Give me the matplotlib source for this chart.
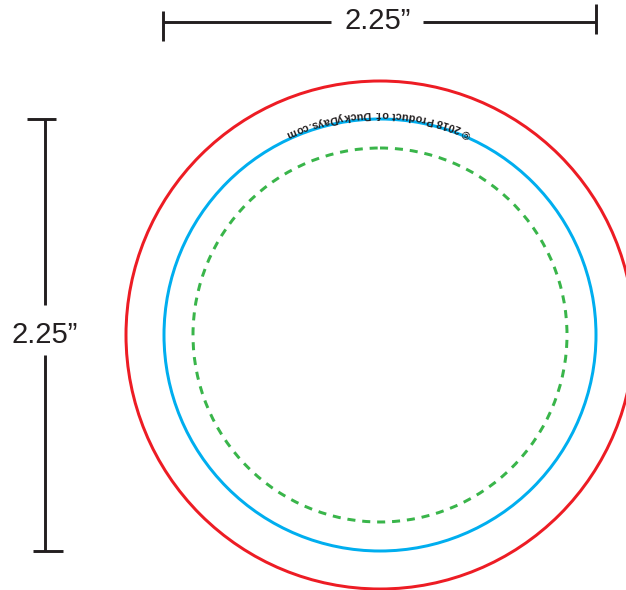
#!/usr/bin/env python3
import numpy as np
import matplotlib
matplotlib.use('Agg')
import matplotlib.pyplot as plt
from matplotlib.patches import Circle
from matplotlib.font_manager import FontProperties
from matplotlib.textpath import TextToPath

# rings in pixels: cut line, trim line, safe line
ring_radius = [254, 216, 187]
ring_color = ['#ed1c24', '#00aeef', '#39b54a']
ring_style = ['-', '-', (0, (2.7, 2.3))]
center = (380, 335)

dim_label = '2.25\u201d'
curved_label = '\u00a9 2018 Product of: DuckyDays.com'

# dimension lines: (start, end) along the line
top_segments = [(163, 331), (423, 596)]
left_segments = [(119, 305), (355, 551)]

INK = '#231f20'


def curved_text(ax, s, radius, mid_angle, size, tracking):
    # places each character by hand, there is no text-on-path in matplotlib
    prop = FontProperties(family='Liberation Sans', weight='bold', size=size)
    ttp = TextToPath()
    scale = 100 / 72

    def width(t):
        # the x keeps trailing spaces from being dropped
        w = ttp.get_text_width_height_descent(t + 'x', prop, False)[0]
        return (w - ttp.get_text_width_height_descent('x', prop, False)[0]) * scale

    total = width(s) + tracking * (len(s) - 1)
    for i, ch in enumerate(s):
        offset = width(s[:i]) + tracking * i + width(ch) / 2
        # text runs right to left over the top, upside down
        a = mid_angle - np.degrees((total / 2 - offset) / radius)
        x = center[0] + radius * np.cos(np.radians(a))
        y = center[1] - radius * np.sin(np.radians(a))
        ax.text(x, y, ch, fontproperties=prop, color=INK, rotation=a + 90,
                rotation_mode='anchor', ha='center', va='baseline')


def main():
    fig = plt.figure(figsize=(6.26, 5.9), dpi=100)
    ax = fig.add_axes([0, 0, 1, 1])
    ax.set_xlim(0, 626)
    ax.set_ylim(590, 0)
    ax.axis('off')

    for r, c, ls in zip(ring_radius, ring_color, ring_style):
        ax.add_patch(Circle(center, r, fill=False, edgecolor=c, linestyle=ls, linewidth=2.15))

    # top dimension
    for a, b in top_segments:
        ax.plot([a, b], [22, 22], color=INK, lw=2.1, solid_capstyle='butt')
    ax.plot([163, 163], [11, 41], color=INK, lw=2.1, solid_capstyle='butt')
    ax.plot([596, 596], [4, 34], color=INK, lw=2.1, solid_capstyle='butt')
    ax.text(378, 21, dim_label, fontsize=21, family='Liberation Sans', color=INK,
            ha='center', va='center')

    # left dimension
    for a, b in left_segments:
        ax.plot([45, 45], [a, b], color=INK, lw=2.1, solid_capstyle='butt')
    ax.plot([27, 56], [119, 119], color=INK, lw=2.1, solid_capstyle='butt')
    ax.plot([33, 63], [551, 551], color=INK, lw=2.1, solid_capstyle='butt')
    ax.text(45, 335, dim_label, fontsize=21, family='Liberation Sans', color=INK,
            ha='center', va='center')

    curved_text(ax, curved_label, 224, 90.3, 7.8, 0.3)

    fig.savefig('out.png', dpi=100)


if __name__ == "__main__":
    main()
